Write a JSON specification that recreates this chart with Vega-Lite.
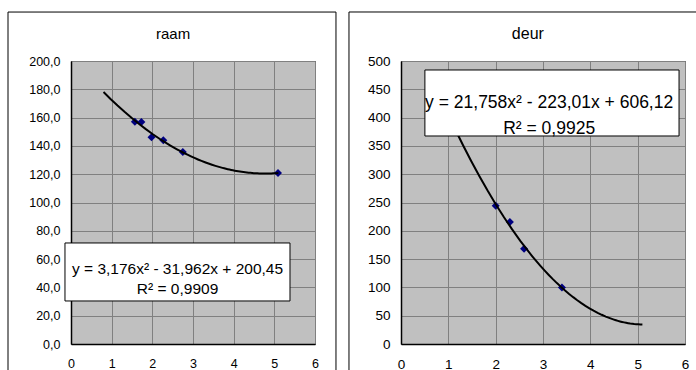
{
  "$schema": "https://vega.github.io/schema/vega-lite/v6.json",
  "padding": {"left": 7, "top": 10, "right": 0, "bottom": 0},
  "spacing": 10,
  "background": "white",
  "datasets": {
    "raam": [
      {"x": 1.57, "y": 157.1},
      {"x": 1.73, "y": 156.9},
      {"x": 1.98, "y": 146.1},
      {"x": 2.27, "y": 144.0},
      {"x": 2.75, "y": 135.7},
      {"x": 5.09, "y": 120.8}
    ],
    "deur": [
      {"x": 2.0, "y": 244.2},
      {"x": 2.3, "y": 215.7},
      {"x": 2.6, "y": 168.3},
      {"x": 3.4, "y": 100.0}
    ]
  },
  "hconcat": [
    {
      "width": 244,
      "height": 283,
      "data": {"name": "raam"},
      "layer": [
        {
          "data": {"values": [{}]},
          "mark": {"type": "rect", "filled": false, "color": "black", "strokeWidth": 1},
          "encoding": {
            "x": {"datum": -1.549, "type": "quantitative", "title": null},
            "x2": {"datum": 6.516},
            "y": {"datum": 234.6, "type": "quantitative", "title": null},
            "y2": {"datum": -30}
          }
        },
        {
          "data": {"values": [{}]},
          "mark": {"type": "text", "fontSize": 15, "font": "Liberation Sans", "color": "black", "baseline": "middle", "align": "center", "text": "raam"},
          "encoding": {
            "x": {"datum": 2.51, "type": "quantitative", "title": null},
            "y": {"datum": 219, "type": "quantitative", "title": null}
          }
        },
        {
          "mark": {"type": "point", "shape": "diamond", "filled": true, "color": "#000080", "size": 64, "opacity": 1},
          "encoding": {
            "x": {
              "field": "x", "type": "quantitative", "title": null,
              "scale": {"domain": [0, 6], "nice": false, "zero": false},
              "axis": {"values": [0, 1, 2, 3, 4, 5, 6], "tickCount": 20, "format": "d", "labelPadding": 13, "labelFlush": false, "labelOverlap": false, "title": null}
            },
            "y": {
              "field": "y", "type": "quantitative", "title": null,
              "scale": {"domain": [0, 200], "nice": false, "zero": false},
              "axis": {"values": [0, 20, 40, 60, 80, 100, 120, 140, 160, 180, 200], "tickCount": 20, "labelExpr": "replace(format(datum.value, '.1f'), '.', ',')", "labelPadding": 11, "labelFlush": false, "labelOverlap": false, "title": null}
            }
          }
        },
        {
          "transform": [{"regression": "y", "on": "x", "method": "poly", "order": 2, "extent": [0.8, 5.1]}],
          "mark": {"type": "line", "color": "black", "strokeWidth": 2},
          "encoding": {
            "x": {"field": "x", "type": "quantitative", "title": null},
            "y": {"field": "y", "type": "quantitative", "title": null}
          }
        },
        {
          "data": {"values": [{}]},
          "mark": {"type": "rect", "fill": "white", "stroke": "black", "strokeWidth": 1},
          "encoding": {
            "x": {"datum": -0.148, "type": "quantitative", "title": null},
            "x2": {"datum": 5.385},
            "y": {"datum": 71.4, "type": "quantitative", "title": null},
            "y2": {"datum": 30.4}
          }
        },
        {
          "data": {"values": [{}]},
          "mark": {"type": "text", "fontSize": 15.5, "font": "Liberation Sans", "color": "black", "baseline": "middle", "align": "center", "lineHeight": 20, "text": ["y = 3,176x² - 31,962x + 200,45", "R² = 0,9909"]},
          "encoding": {
            "x": {"datum": 2.62, "type": "quantitative", "title": null},
            "y": {"datum": 53.0, "type": "quantitative", "title": null}
          }
        }
      ]
    },
    {
      "width": 284,
      "height": 283,
      "data": {"name": "deur"},
      "layer": [
        {
          "data": {"values": [{}]},
          "mark": {"type": "rect", "filled": false, "color": "black", "strokeWidth": 1},
          "encoding": {
            "x": {"datum": -1.099, "type": "quantitative", "title": null},
            "x2": {"datum": 6.7},
            "y": {"datum": 586.6, "type": "quantitative", "title": null},
            "y2": {"datum": -70}
          }
        },
        {
          "data": {"values": [{}]},
          "mark": {"type": "text", "fontSize": 16, "font": "Liberation Sans", "color": "black", "baseline": "middle", "align": "center", "text": "deur"},
          "encoding": {
            "x": {"datum": 2.68, "type": "quantitative", "title": null},
            "y": {"datum": 547.7, "type": "quantitative", "title": null}
          }
        },
        {
          "mark": {"type": "point", "shape": "diamond", "filled": true, "color": "#000080", "size": 64, "opacity": 1},
          "encoding": {
            "x": {
              "field": "x", "type": "quantitative", "title": null,
              "scale": {"domain": [0, 6], "nice": false, "zero": false},
              "axis": {"values": [0, 1, 2, 3, 4, 5, 6], "tickCount": 20, "format": "d", "labelPadding": 13, "labelFlush": false, "labelOverlap": false, "labelFontSize": 13.5, "title": null}
            },
            "y": {
              "field": "y", "type": "quantitative", "title": null,
              "scale": {"domain": [0, 500], "nice": false, "zero": false},
              "axis": {"values": [0, 50, 100, 150, 200, 250, 300, 350, 400, 450, 500], "tickCount": 20, "format": "d", "labelPadding": 11, "labelFlush": false, "labelOverlap": false, "labelFontSize": 13.5, "title": null}
            }
          }
        },
        {
          "transform": [{"regression": "y", "on": "x", "method": "poly", "order": 2, "extent": [0.8, 5.1]}],
          "mark": {"type": "line", "color": "black", "strokeWidth": 2},
          "encoding": {
            "x": {"field": "x", "type": "quantitative", "title": null},
            "y": {"field": "y", "type": "quantitative", "title": null}
          }
        },
        {
          "data": {"values": [{}]},
          "mark": {"type": "rect", "fill": "white", "stroke": "black", "strokeWidth": 1},
          "encoding": {
            "x": {"datum": 0.505, "type": "quantitative", "title": null},
            "x2": {"datum": 5.874},
            "y": {"datum": 484.1, "type": "quantitative", "title": null},
            "y2": {"datum": 367.5}
          }
        },
        {
          "data": {"values": [{}]},
          "mark": {"type": "text", "fontSize": 17.5, "font": "Liberation Sans", "color": "black", "baseline": "middle", "align": "center", "lineHeight": 26, "text": ["y = 21,758x² - 223,01x + 606,12", "R² = 0,9925"]},
          "encoding": {
            "x": {"datum": 3.13, "type": "quantitative", "title": null},
            "y": {"datum": 425.3, "type": "quantitative", "title": null}
          }
        }
      ]
    }
  ],
  "config": {
    "font": "Liberation Sans",
    "view": {"fill": "#C0C0C0", "stroke": "#222222", "strokeWidth": 1},
    "axis": {
      "grid": true,
      "gridColor": "#808080",
      "gridWidth": 1,
      "gridOpacity": 1,
      "ticks": false,
      "domain": true,
      "domainColor": "#000000",
      "domainWidth": 1.5,
      "labelFont": "Liberation Sans",
      "labelColor": "#000000",
      "labelFontSize": 12.5,
      "labelOverlap": false
    }
  }
}
